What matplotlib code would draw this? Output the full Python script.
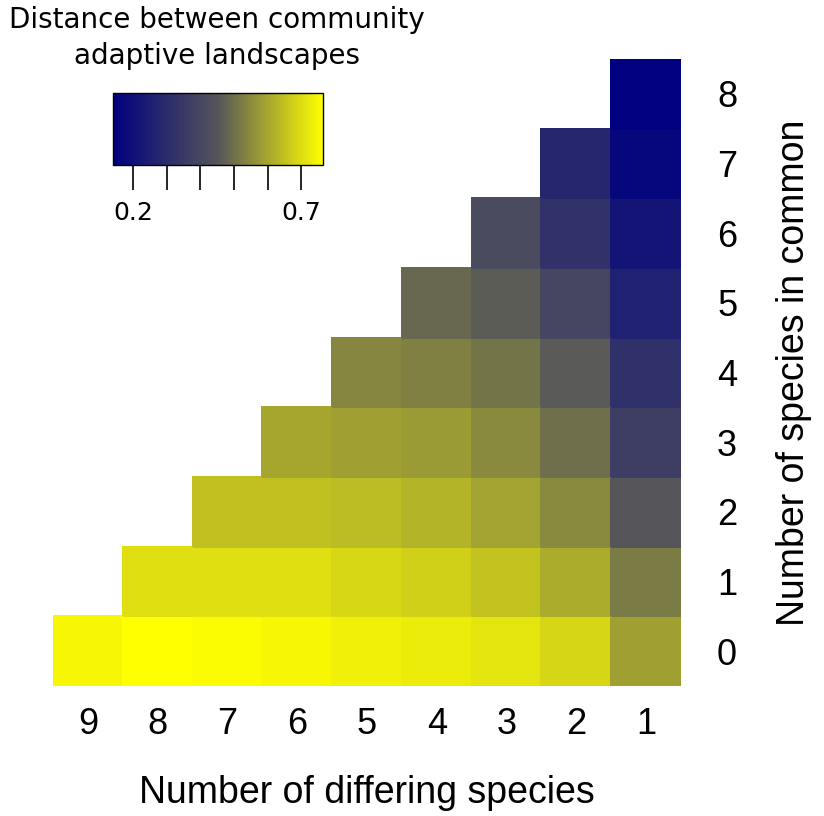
import numpy as np
import matplotlib
matplotlib.use("Agg")
import matplotlib.pyplot as plt
from matplotlib.colors import LinearSegmentedColormap

# distance between community adaptive landscapes
# rows: number of species in common (0..8)
# columns: number of differing species, listed from 9 down to 1
differing = [9, 8, 7, 6, 5, 4, 3, 2, 1]
in_common = [0, 1, 2, 3, 4, 5, 6, 7, 8]

row0 = [0.746, 0.765, 0.756, 0.750, 0.738, 0.730, 0.715, 0.688, 0.590]
row1 = [0.704, 0.704, 0.704, 0.691, 0.679, 0.655, 0.609, 0.521]
row2 = [0.649, 0.649, 0.642, 0.627, 0.596, 0.548, 0.452]
row3 = [0.600, 0.590, 0.581, 0.550, 0.499, 0.368]
row4 = [0.541, 0.531, 0.511, 0.462, 0.316]
row5 = [0.489, 0.465, 0.397, 0.261]
row6 = [0.415, 0.324, 0.214]
row7 = [0.280, 0.169]
row8 = [0.140]
rows = [row0, row1, row2, row3, row4, row5, row6, row7, row8]

vmin, vmax = 0.14, 0.765
cbar_ticks = [0.2, 0.3, 0.4, 0.5, 0.6, 0.7]
cbar_labels = ["0.2", "", "", "", "", "0.7"]

# fill the lower-right triangle, right-aligned (column "1" always present)
grid = np.full((len(in_common), len(differing)), np.nan)
for i, vals in enumerate(rows):
    grid[i, len(differing) - len(vals):] = vals
grid = np.ma.masked_invalid(grid)

cmap = LinearSegmentedColormap.from_list("navy_grey_yellow", ["#000080", "#55555a", "#ffff00"])

fig = plt.figure(figsize=(8.24, 8.16), dpi=100)
ax = fig.add_axes([0.0643, 0.1593, 0.7621, 0.7684])

xe = np.arange(len(differing) + 1) - 0.5
ye = np.arange(len(in_common) + 1) - 0.5
mesh = ax.pcolormesh(xe, ye, grid, cmap=cmap, vmin=vmin, vmax=vmax,
                     edgecolors="face", linewidth=0.3)

fs = 26
ax.set_xlim(xe[0], xe[-1])
ax.set_ylim(ye[0], ye[-1])
ax.set_xticks(range(len(differing)))
ax.set_xticklabels([str(d) for d in differing], fontsize=fs, family="Liberation Sans")
ax.set_yticks(range(len(in_common)))
ax.set_yticklabels([str(c) for c in in_common], fontsize=fs, family="Liberation Sans")
ax.yaxis.tick_right()
ax.yaxis.set_label_position("right")
ax.tick_params(axis="x", length=0, pad=15)
ax.tick_params(axis="y", length=0, pad=26)
for s in ax.spines.values():
    s.set_visible(False)

ax.set_xlabel("Number of differing species", fontsize=27, family="Liberation Sans", labelpad=24)
ax.set_ylabel("Number of species in common", fontsize=27, family="Liberation Sans", labelpad=28)

# colour key in the empty upper-left corner
cax = fig.add_axes([113 / 824, 1 - 165 / 816, 210 / 824, 72 / 816])
cb = fig.colorbar(mesh, cax=cax, orientation="horizontal")
cb.set_ticks(cbar_ticks)
cb.set_ticklabels(cbar_labels)
cb.outline.set_linewidth(1.0)
cax.tick_params(length=18, width=1.2, pad=8, labelsize=18, direction="out")
for t in cax.get_xticklabels():
    t.set_family("DejaVu Sans")

fig.text(217 / 824, 1 - 38 / 816, "Distance between community\nadaptive landscapes",
         ha="center", va="center", fontsize=20, family="DejaVu Sans", linespacing=1.32)

fig.savefig("out.png", dpi=100)
